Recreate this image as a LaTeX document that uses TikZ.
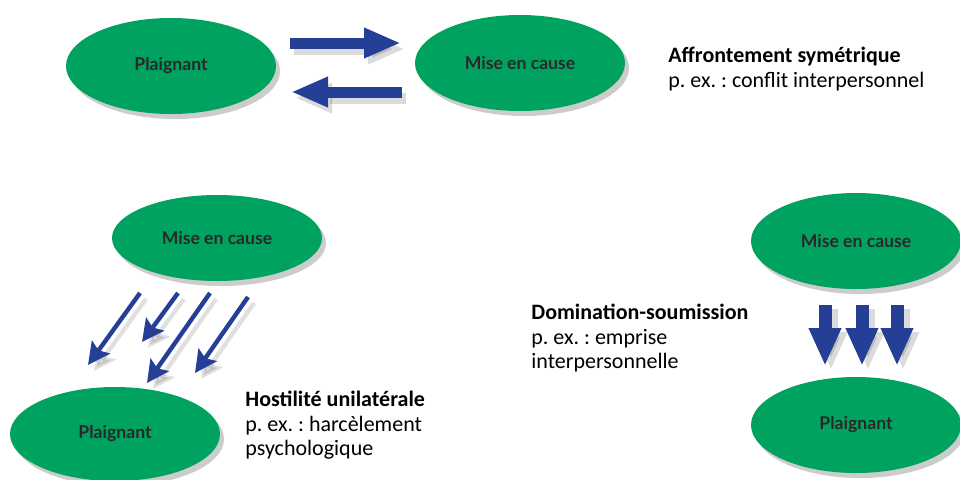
\documentclass[tikz,border=0pt]{standalone}
\usepackage{fontspec}
\setmainfont{Carlito}
\newfontfamily\ellfont{Lato}
\usetikzlibrary{shapes.geometric,arrows.meta,shadows}
\definecolor{ellgreen}{RGB}{0,162,96}
\definecolor{arrblue}{RGB}{38,63,150}
\definecolor{elltext}{RGB}{40,40,40}
\tikzset{
  ell/.style={ellipse, fill=ellgreen, inner sep=0pt, minimum width=105pt, minimum height=48pt,
    font=\ellfont\bfseries\fontsize{8.8}{10}\selectfont, text=elltext,
    drop shadow={shadow xshift=2pt, shadow yshift=-2.5pt, fill=black, opacity=0.2}},
  blockarrow/.style={draw=arrblue, line width=5.5pt, -{Triangle[width=14pt,length=18.5pt]},
    preaction={draw=black, opacity=0.14, line width=5.5pt, -{Triangle[width=14pt,length=18.5pt]}, transform canvas={shift={(2pt,-3pt)}}}},
  downarrow/.style={draw=arrblue, line width=6.5pt, -{Triangle[width=15pt,length=19pt]},
    preaction={draw=black, opacity=0.14, line width=6.5pt, -{Triangle[width=15pt,length=19pt]}, transform canvas={shift={(3pt,-2pt)}}}},
  thinarrow/.style={draw=arrblue, line width=2.2pt, -{Stealth[width=11pt,length=11pt,inset=2pt]},
    preaction={draw=black, opacity=0.12, line width=2.2pt, -{Stealth[width=11pt,length=11pt,inset=2pt]}, transform canvas={shift={(3pt,-3pt)}}}},
  label/.style={anchor=north west, align=left, inner sep=0pt, font=\fontsize{11}{12.2}\selectfont, text=black}
}
\frenchspacing
\begin{document}
\begin{tikzpicture}[x=0.5pt,y=-0.5pt]
\useasboundingbox (0,0) rectangle (960,479);
% top row
\node[ell] (p1) at (171,66) {Plaignant};
\node[ell] (m1) at (520,63) {Mise en cause};
\coordinate (a1s) at (290,43);
\coordinate (a1e) at (401,43);
\coordinate (a2s) at (402,92);
\coordinate (a2e) at (291,92);
\draw[blockarrow] (a1s) -- (a1e);
\draw[blockarrow] (a2s) -- (a2e);
\node[label] (t1) at (668,47) {\textbf{Affrontement symétrique}\\p. ex. : conflit interpersonnel};
% bottom left
\node[ell, minimum height=43pt] (m2) at (217,238) {Mise en cause};
\node[ell, minimum height=47pt] (p2) at (115,434) {Plaignant};
\coordinate (b1s) at (140,293); \coordinate (b1e) at (88,365);
\coordinate (b2s) at (178,293); \coordinate (b2e) at (142,342);
\coordinate (b3s) at (210,293); \coordinate (b3e) at (147,383);
\coordinate (b4s) at (248,297); \coordinate (b4e) at (195,373);
\draw[thinarrow] (b1s) -- (b1e);
\draw[thinarrow] (b2s) -- (b2e);
\draw[thinarrow] (b3s) -- (b3e);
\draw[thinarrow] (b4s) -- (b4e);
\node[label] (t2) at (245,391) {\textbf{Hostilité unilatérale}\\p. ex. : harcèlement\\psychologique};
% bottom right
\node[ell] (m3) at (856,241) {Mise en cause};
\node[ell] (p3) at (856,425) {Plaignant};
\coordinate (c1s) at (825,305); \coordinate (c1e) at (825,366);
\coordinate (c2s) at (862,305); \coordinate (c2e) at (862,366);
\coordinate (c3s) at (897,305); \coordinate (c3e) at (897,366);
\draw[downarrow] (c1s) -- (c1e);
\draw[downarrow] (c2s) -- (c2e);
\draw[downarrow] (c3s) -- (c3e);
\node[label] (t3) at (531,304) {\textbf{Domination-soumission}\\p. ex. : emprise\\interpersonnelle};
\end{tikzpicture}
\end{document}
